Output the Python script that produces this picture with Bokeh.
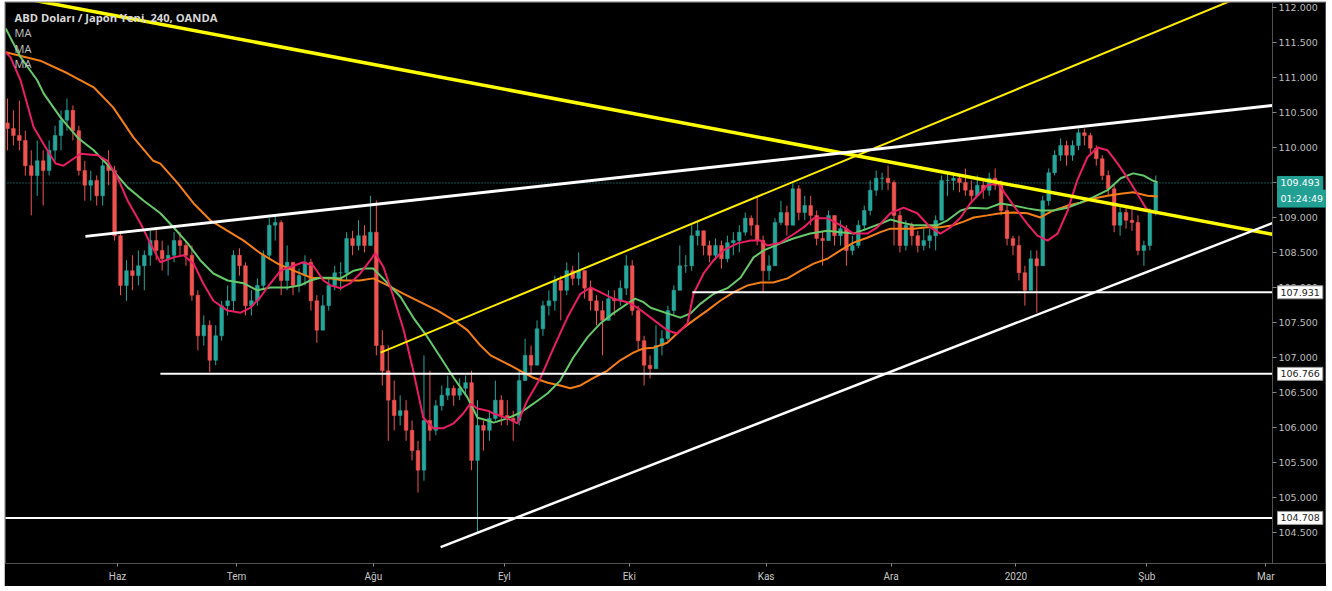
import pandas as pd
from bokeh.plotting import figure
from bokeh.models import ColumnDataSource, Range1d, FixedTicker, Label
from bokeh.core.properties import value
from bokeh.embed import file_html
from bokeh.resources import INLINE

# ---------------- data (daily bars) ----------------
FIRST_DAY = "2019-05-07"
LAST_AXIS_DAY = "2020-03-06"
HOLIDAYS = ["2019-12-25", "2020-01-01"]
month_names = ["Haz", "Tem", "Ağu", "Eyl", "Eki", "Kas", "Ara", "2020", "Şub", "Mar"]
price_ticks = [104.5, 105.0, 105.5, 106.0, 106.5, 107.0, 107.5, 108.0,
               108.5, 109.0, 109.5, 110.0, 110.5, 111.0, 111.5, 112.0]

first_open = 110.35
high = [
    110.70, 110.53, 110.67, 110.24, 109.96, 110.10, 109.96, 110.10, 110.31, 110.53,
    110.70, 110.60, 110.31, 109.81, 109.67, 109.60, 109.81, 109.96, 109.74, 108.81,
    108.39, 108.46, 108.53, 108.53, 108.81, 108.84, 108.67, 108.60, 108.79, 108.79,
    108.67, 108.60, 107.96, 107.60, 107.53, 107.46, 107.81, 108.03, 108.53, 108.56,
    108.36, 107.96, 108.13, 108.53, 108.99, 109.03, 108.96, 108.60, 108.36, 108.27,
    108.46, 108.41, 107.89, 107.89, 108.13, 108.31, 108.36, 108.79, 108.81, 108.96,
    108.89, 109.31, 109.24, 107.39, 107.17, 106.67, 106.46, 106.39, 106.10, 105.81,
    107.03, 106.81, 106.39, 106.60, 106.74, 106.60, 106.70, 106.74, 106.81, 106.39,
    106.10, 106.24, 106.67, 106.46, 106.39, 106.24, 106.81, 107.27, 107.17, 107.53,
    107.81, 107.96, 108.17, 108.17, 108.36, 108.31, 108.50, 108.24, 108.10, 107.89,
    107.81, 107.96, 107.96, 108.10, 108.46, 108.39, 107.74, 107.31, 107.03, 107.46,
    107.39, 107.74, 108.03, 108.60, 108.46, 108.89, 108.96, 108.81, 108.67, 108.70,
    108.67, 108.74, 108.79, 108.89, 109.07, 109.03, 109.31, 108.74, 108.46, 108.99,
    109.24, 109.17, 109.49, 109.46, 109.31, 109.31, 109.10, 108.81, 109.10, 109.03,
    108.96, 108.89, 108.74, 108.96, 109.17, 109.53, 109.67, 109.64, 109.74, 109.53,
    109.10, 108.96, 108.93, 108.81, 108.84, 108.84, 109.03, 109.60, 109.64, 109.64,
    109.60, 109.70, 109.53, 109.60, 109.53, 109.64, 109.70, 109.53, 109.17, 108.74,
    108.74, 108.31, 108.53, 108.53, 109.31, 109.70, 109.96, 110.13, 110.10, 110.10,
    110.27, 110.27, 110.21, 110.03, 109.89, 109.67, 109.46, 109.17, 109.17, 109.17,
    109.03, 108.67, 109.13, 109.60,
]
low = [
    109.96, 110.03, 109.96, 109.60, 109.03, 109.31, 109.17, 109.60, 109.81, 109.96,
    110.24, 110.10, 109.60, 109.24, 109.24, 109.17, 109.17, 109.46, 108.67, 107.89,
    107.81, 107.96, 108.03, 107.96, 108.31, 108.39, 108.24, 108.17, 108.36, 108.46,
    108.31, 107.81, 107.10, 107.17, 106.79, 106.89, 107.24, 107.60, 107.67, 108.17,
    107.60, 107.60, 107.74, 107.96, 108.39, 108.67, 107.89, 107.96, 107.89, 107.93,
    108.03, 107.67, 107.21, 107.39, 107.67, 107.96, 107.96, 108.10, 108.46, 108.53,
    108.50, 108.60, 107.03, 106.60, 105.81, 105.96, 106.03, 105.81, 105.53, 105.07,
    105.24, 105.81, 105.89, 106.24, 106.39, 106.31, 106.39, 106.46, 105.39, 104.49,
    105.67, 105.81, 106.10, 106.03, 106.03, 105.81, 106.03, 106.67, 106.74, 106.89,
    107.31, 107.60, 107.67, 107.53, 107.89, 108.03, 108.03, 107.84, 107.67, 107.46,
    107.03, 107.53, 107.60, 107.74, 107.89, 107.60, 107.10, 106.60, 106.70, 106.89,
    107.03, 107.24, 107.60, 107.96, 108.21, 108.24, 108.60, 108.46, 108.36, 108.39,
    108.27, 108.36, 108.46, 108.50, 108.74, 108.74, 108.60, 107.93, 108.10, 108.46,
    108.89, 108.74, 108.89, 108.96, 108.96, 108.89, 108.60, 108.31, 108.67, 108.60,
    108.60, 108.31, 108.46, 108.56, 108.81, 109.03, 109.31, 109.39, 109.39, 108.60,
    108.50, 108.53, 108.60, 108.50, 108.53, 108.56, 108.53, 108.96, 109.31, 109.39,
    109.36, 109.31, 109.24, 109.31, 109.27, 109.31, 109.39, 109.03, 108.60, 108.46,
    108.10, 107.74, 107.96, 107.64, 108.31, 109.17, 109.60, 109.81, 109.74, 109.81,
    109.96, 110.03, 109.89, 109.74, 109.53, 109.31, 108.79, 108.74, 108.84, 108.81,
    108.46, 108.31, 108.53, 109.03,
]
close = [
    110.27, 110.17, 110.10, 109.74, 109.60, 109.81, 109.67, 109.96, 110.17, 110.39,
    110.53, 110.24, 109.67, 109.46, 109.53, 109.31, 109.74, 109.67, 108.74, 108.03,
    108.24, 108.17, 108.31, 108.46, 108.67, 108.53, 108.41, 108.46, 108.67, 108.60,
    108.46, 107.89, 107.31, 107.46, 106.96, 107.31, 107.74, 107.81, 108.46, 108.31,
    107.74, 107.81, 108.03, 108.46, 108.89, 108.93, 108.10, 108.36, 108.03, 108.17,
    108.36, 107.81, 107.39, 107.74, 108.03, 108.21, 108.21, 108.70, 108.60, 108.74,
    108.60, 108.79, 107.17, 106.81, 106.39, 106.17, 106.24, 105.96, 105.67, 105.39,
    106.10, 105.96, 106.31, 106.46, 106.56, 106.46, 106.56, 106.64, 105.53, 106.03,
    105.96, 106.13, 106.39, 106.17, 106.13, 106.10, 106.67, 107.03, 106.89, 107.41,
    107.74, 107.81, 108.10, 107.96, 108.24, 108.13, 108.24, 107.99, 107.81, 107.67,
    107.53, 107.84, 107.81, 107.99, 108.31, 107.67, 107.24, 106.89, 106.84, 107.17,
    107.27, 107.67, 107.96, 108.31, 108.31, 108.74, 108.81, 108.60, 108.46, 108.60,
    108.41, 108.64, 108.67, 108.79, 108.99, 108.89, 108.67, 108.24, 108.31, 108.93,
    109.07, 108.89, 109.41, 109.07, 109.17, 109.03, 108.70, 108.67, 109.03, 108.74,
    108.84, 108.53, 108.60, 108.89, 109.10, 109.39, 109.56, 109.56, 109.50, 109.03,
    108.60, 108.89, 108.74, 108.60, 108.67, 108.74, 108.96, 109.53, 109.53, 109.56,
    109.50, 109.39, 109.31, 109.46, 109.39, 109.56, 109.46, 109.10, 108.70, 108.60,
    108.21, 107.96, 108.41, 108.31, 109.24, 109.64, 109.89, 110.03, 109.89, 110.03,
    110.21, 110.17, 109.99, 109.84, 109.60, 109.41, 108.89, 109.07, 108.96, 108.93,
    108.53, 108.60, 109.07, 109.493,
]

# moving averages: (bar index, value)
pink_day = [-0.3, 0.5, 2.2, 4.4, 6.7, 8.1, 9.4, 10.6, 12.3, 15.1, 16.8, 18.5, 20.2, 22.4, 24.0,
            25.7, 27.9, 29.6, 31.3, 32.9, 34.6, 37.0, 39.2, 40.8, 42.5, 44.2, 45.9, 48.1, 49.7,
            51.4, 53.1, 54.3, 56.0, 57.6, 59.3, 61.0, 61.8, 63.2, 64.9, 66.6, 68.2, 69.9, 71.6,
            73.3, 75.0, 76.6, 77.8, 79.0, 80.7, 81.7, 84.0, 85.7, 87.4, 89.6, 91.8, 94.1, 96.3,
            98.0, 99.7, 101.8, 104.2, 105.9, 108.1, 110.9, 112.6, 114.3, 115.3, 117.0, 118.7,
            120.3, 122.7, 124.9, 126.6, 127.7, 129.9, 132.1, 134.0, 135.5, 137.8, 140.0, 142.2,
            144.5, 146.2, 148.4, 150.6, 152.9, 155.1, 156.8, 158.5, 160.2, 161.8, 164.7, 166.4,
            168.1, 169.7, 171.4, 173.1, 174.8, 176.5, 178.2, 179.8, 181.5, 183.2, 184.9, 186.6,
            188.2, 189.9, 191.3, 192.4, 193.3]
pink_val = [111.36, 111.29, 110.96, 110.29, 109.96, 109.77, 109.74, 109.81, 109.91, 109.89,
            109.81, 109.57, 109.24, 108.91, 108.63, 108.36, 108.43, 108.46, 108.34, 108.06,
            107.81, 107.67, 107.64, 107.71, 107.86, 108.06, 108.24, 108.31, 108.36, 108.31,
            108.10, 108.03, 107.99, 108.06, 108.20, 108.39, 108.49, 108.29, 107.86, 107.39,
            106.81, 106.14, 105.99, 105.99, 106.06, 106.20, 106.34, 106.27, 106.24, 106.20,
            106.13, 106.06, 106.39, 106.71, 107.14, 107.57, 107.91, 108.00, 107.93, 107.84,
            107.79, 107.71, 107.57, 107.39, 107.34, 107.49, 107.91, 108.20, 108.39, 108.53,
            108.63, 108.67, 108.67, 108.60, 108.64, 108.76, 108.87, 108.99, 108.99, 108.89,
            108.77, 108.77, 108.86, 109.06, 109.14, 109.06, 108.86, 108.77, 108.86, 109.00,
            109.20, 109.46, 109.49, 109.29, 109.10, 108.91, 108.74, 108.67, 108.77, 109.10,
            109.53, 109.86, 110.00, 109.96, 109.77, 109.57, 109.34, 109.14, 109.07, 109.06]

green_day = [-0.3, 2.2, 5.0, 6.1, 8.9, 11.8, 14.5, 17.3, 20.2, 22.9, 25.7, 27.9, 30.3, 32.4, 34.6,
             37.0, 39.7, 42.0, 44.2, 47.1, 49.2, 50.9, 52.6, 54.3, 56.0, 58.2, 59.8, 61.5, 63.9,
             66.1, 68.2, 70.6, 72.8, 75.0, 77.3, 79.0, 80.7, 81.7, 84.0, 86.2, 88.4, 90.8, 92.9,
             95.1, 97.5, 99.7, 101.8, 104.2, 105.5, 106.9, 108.1, 110.9, 113.1, 114.8, 116.5,
             118.7, 121.0, 123.2, 125.4, 127.1, 129.9, 132.1, 134.9, 137.8, 140.0, 142.2, 144.5,
             146.7, 148.4, 150.1, 152.3, 154.6, 156.3, 158.0, 160.2, 161.8, 164.7, 166.9, 169.1,
             171.4, 173.6, 175.8, 178.2, 180.3, 182.5, 184.9, 187.1, 189.2, 190.9, 192.4, 193.3]
green_val = [111.70, 111.29, 110.96, 110.77, 110.43, 110.14, 109.96, 109.71, 109.43, 109.24,
             109.06, 108.86, 108.63, 108.39, 108.20, 108.10, 108.06, 107.96, 108.00, 108.00,
             108.03, 108.10, 108.14, 108.14, 108.13, 108.24, 108.27, 108.27, 108.06, 107.86,
             107.57, 107.29, 107.00, 106.71, 106.43, 106.14, 106.10, 106.07, 106.13, 106.21,
             106.34, 106.49, 106.67, 107.00, 107.29, 107.49, 107.63, 107.77, 107.84, 107.79,
             107.71, 107.63, 107.57, 107.63, 107.77, 107.91, 107.99, 108.14, 108.43, 108.53,
             108.63, 108.70, 108.77, 108.81, 108.79, 108.77, 108.84, 108.91, 108.97, 108.93,
             108.89, 108.89, 108.89, 108.96, 109.10, 109.14, 109.13, 109.20, 109.17, 109.13,
             109.10, 109.10, 109.14, 109.21, 109.29, 109.39, 109.56, 109.63, 109.60, 109.53,
             109.50]

orange_day = [-0.3, 5.5, 10.1, 12.3, 14.5, 17.8, 21.2, 24.5, 25.7, 28.6, 31.3, 34.1, 37.0, 39.7,
              42.5, 45.4, 48.1, 51.0, 54.3, 56.5, 59.2, 61.5, 63.9, 66.6, 69.4, 72.3, 75.0, 77.3,
              79.5, 81.2, 84.0, 86.2, 88.4, 90.8, 92.9, 94.6, 96.3, 98.5, 100.8, 103.0, 105.2,
              106.9, 108.6, 110.9, 113.1, 115.3, 117.6, 119.8, 122.0, 124.4, 126.6, 128.7, 131.1,
              133.3, 135.5, 137.8, 140.0, 142.2, 144.5, 146.7, 148.4, 150.1, 152.3, 154.6, 156.8,
              159.0, 160.7, 162.4, 164.7, 166.9, 169.1, 171.4, 173.6, 175.8, 178.2, 180.3, 182.5,
              184.9, 187.1, 189.2, 191.6, 193.3]
orange_val = [111.36, 111.24, 111.06, 110.96, 110.86, 110.57, 110.14, 109.81, 109.77, 109.49,
              109.20, 108.96, 108.81, 108.67, 108.49, 108.34, 108.24, 108.14, 108.13, 108.10,
              108.10, 108.13, 108.03, 107.91, 107.79, 107.67, 107.53, 107.39, 107.17, 107.03,
              106.91, 106.81, 106.71, 106.64, 106.60, 106.56, 106.60, 106.71, 106.81, 106.96,
              107.07, 107.13, 107.14, 107.21, 107.39, 107.53, 107.67, 107.81, 107.93, 108.03,
              108.07, 108.07, 108.13, 108.24, 108.34, 108.41, 108.53, 108.64, 108.71, 108.79,
              108.84, 108.84, 108.84, 108.86, 108.86, 108.89, 108.94, 109.00, 109.03, 109.06,
              109.07, 109.06, 109.00, 109.10, 109.17, 109.21, 109.27, 109.31, 109.34, 109.36,
              109.31, 109.30]

# drawn trend lines (bar index, price); they stop at the price-scale edge
SCALE_EDGE = 212.6
yellow_main_x, yellow_main_y = [-1.0, SCALE_EDGE], [112.19, 108.76]
yellow_up_x, yellow_up_y = [62.7, 210.0], [107.07, 112.25]
white_top_x, white_top_y = [13.1, SCALE_EDGE], [108.73, 110.60]
white_low_x, white_low_y = [72.8, SCALE_EDGE], [104.29, 108.92]
level_prices = [104.708, 106.766, 107.931]
level_starts = [-1.0, 25.7, 115.1]
countdown_text = "01:24:49"

assert len(high) == len(low) == len(close)
assert len(pink_day) == len(pink_val) and len(green_day) == len(green_val) and len(orange_day) == len(orange_val)

# ---------------- derived ----------------
days = pd.bdate_range(FIRST_DAY, LAST_AXIS_DAY)
days = days[~days.isin(pd.to_datetime(HOLIDAYS))]
tick_pos = []
prev = None
for i, d in enumerate(days):
    key = (d.year, d.month)
    if key != prev:
        if i > 0:
            tick_pos.append(i - 0.5)
        prev = key
tick_pos = tick_pos[:len(month_names)]

n = len(close)
xs = list(range(n))
opens = [first_open] + close[:-1]
UP, DOWN = "#26a69a", "#ef5350"
colors = [UP if c >= o else DOWN for o, c in zip(opens, close)]
tops = [max(o, c) for o, c in zip(opens, close)]
bots = [min(o, c) for o, c in zip(opens, close)]
his = [max(h, t) for h, t in zip(high, tops)]
los = [min(l, b) for l, b in zip(low, bots)]
src = ColumnDataSource(dict(x=xs, top=tops, bottom=bots, hi=his, lo=los, color=colors))

# ---------------- figure ----------------
W_FRAME = 1321  # frame spans chart area + price scale
p = figure(width=1322, height=585,
           x_range=Range1d(-0.33, 221.69), y_range=Range1d(104.057, 112.071),
           y_axis_location=None, output_backend="svg", toolbar_location=None,
           min_border_left=1, min_border_right=0, min_border_top=1, min_border_bottom=23,
           background_fill_color="#000000", border_fill_color="#000000",
           outline_line_color="#505050")
p.margin = (1, 6, 5, 4)
p.extra_x_ranges = {"scale": Range1d(0, W_FRAME)}  # 1 unit = 1 screen pixel
p.xgrid.visible = False
p.ygrid.visible = False

xax = p.xaxis[0]
xax.ticker = FixedTicker(ticks=tick_pos)
xax.major_label_overrides = {t: m for t, m in zip(tick_pos, month_names)}
xax.axis_line_color = "#505050"
xax.major_tick_line_color = "#8a8a8a"
xax.major_tick_in = 0
xax.major_tick_out = 3
xax.minor_tick_line_color = None
xax.major_label_standoff = 4
xax.major_label_text_color = "#c8c8c8"
xax.major_label_text_font = "Roboto"
xax.major_label_text_font_size = "10px"

# last price dotted line
last = close[-1]
p.line([-1, SCALE_EDGE], [last, last], line_color="#26a69a", line_dash="1 2", line_width=1)

# candles
p.segment(x0="x", y0="lo", x1="x", y1="hi", line_color="color", line_width=1, source=src)
p.vbar(x="x", width=0.62, top="top", bottom="bottom", fill_color="color",
       line_color="color", line_width=0.5, source=src)

# moving averages
p.line(orange_day, orange_val, line_color="#f57f17", line_width=2)
p.line(green_day, green_val, line_color="#66c96a", line_width=2)
p.line(pink_day, pink_val, line_color="#e91e63", line_width=2)

# trend lines
p.line(yellow_main_x, yellow_main_y, line_color="#ffff00", line_width=3.5)
p.line(yellow_up_x, yellow_up_y, line_color="#ffee00", line_width=2)
p.line(white_top_x, white_top_y, line_color="#ffffff", line_width=3)
p.line(white_low_x, white_low_y, line_color="#ffffff", line_width=2.5)
for lv, st in zip(level_prices, level_starts):
    p.line([st, SCALE_EDGE], [lv, lv], line_color="#ffffff", line_width=2)

# ---------------- price scale (drawn inside the frame, in pixel units) ----------------
SX = 1267  # scale line position in "scale" units (pixels from frame left)
p.segment(x0=[SX], y0=[104.0], x1=[SX], y1=[112.2], x_range_name="scale",
          line_color="#505050", line_width=1)
p.segment(x0=[SX] * len(price_ticks), y0=price_ticks, x1=[SX + 4] * len(price_ticks),
          y1=price_ticks, x_range_name="scale", line_color="#8a8a8a", line_width=1)
p.text(x=[SX + 6] * len(price_ticks), y=price_ticks, text=[f"{t:.3f}" for t in price_ticks],
       x_range_name="scale", text_baseline="middle", text_align="left",
       text_font=value("DejaVu Sans"), text_font_size="9.5px", text_color="#bdbdbd")

def scale_box(y, text, bg, fg, border):
    p.add_layout(Label(x=SX + 5, x_range_name="scale", y=y, text=text,
                       text_align="left", text_baseline="middle",
                       text_font="DejaVu Sans", text_font_size="9.5px", text_color=fg,
                       background_fill_color=bg, border_line_color=border, padding=3))

scale_box(last, f"{last:.3f}", "#22a094", "#ffffff", "#22a094")
scale_box(109.27, countdown_text, "#22a094", "#ffffff", "#22a094")
for lv in level_prices:
    scale_box(lv, f"{lv:.3f}", "#ffffff", "#222222", "#9a9a9a")

# header texts
p.add_layout(Label(x=9, x_units="screen", y=111.857, text="ABD Doları / Japon Yeni, 240, OANDA",
                   text_baseline="middle", text_font="Open Sans", text_font_style="bold",
                   text_font_size="11.2px", text_color="#d8d8d8"))
for yy in [111.643, 111.414, 111.20]:
    p.add_layout(Label(x=9, x_units="screen", y=yy, text="MA", text_baseline="middle",
                       text_font="Open Sans", text_font_size="11px", text_color="#c4c4c4"))

open("out.html", "w").write(file_html(p, INLINE))
